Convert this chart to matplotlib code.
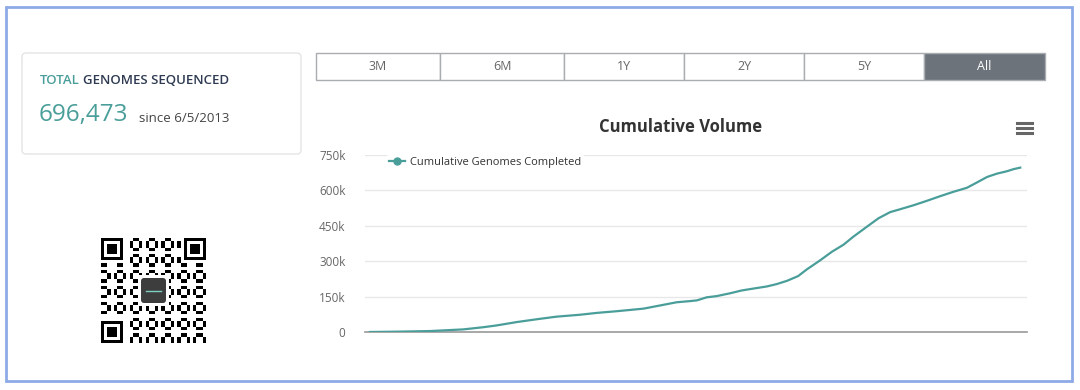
import matplotlib
matplotlib.use("Agg")
import matplotlib.pyplot as plt
import numpy as np
from matplotlib.patches import FancyBboxPatch, Rectangle
from matplotlib.lines import Line2D

plt.rcParams['font.family'] = ['Open Sans', 'DejaVu Sans']

# ---- data ----
years = [2013.43, 2013.87, 2014.41, 2014.95, 2015.27, 2015.50, 2015.82, 2016.15,
         2016.47, 2016.85, 2017.13, 2017.45, 2017.89, 2018.21, 2018.43, 2018.65,
         2018.76, 2018.92, 2019.08, 2019.30, 2019.49, 2019.68, 2019.90, 2020.06,
         2020.23, 2020.41, 2020.55, 2020.77, 2020.96, 2021.15, 2021.31, 2021.53,
         2021.72, 2021.91, 2022.07, 2022.29, 2022.51, 2022.73, 2022.94, 2023.16,
         2023.32, 2023.49, 2023.65, 2023.81, 2023.92, 2024.03]
genomes = [0, 1400, 4000, 11000, 20000, 28000, 42000, 54000,
           65000, 73000, 81000, 88000, 99000, 115000, 126000, 131000,
           134000, 147000, 152000, 164000, 176000, 184000, 193000, 203000,
           217000, 237000, 265000, 304000, 340000, 370000, 404000, 446000,
           482000, 508000, 520000, 537000, 556000, 576000, 594000, 611000,
           633000, 657000, 671000, 681000, 690000, 696473]
y_ticks = [0, 150000, 300000, 450000, 600000, 750000]
y_tick_labels = ["0", "150k", "300k", "450k", "600k", "750k"]
buttons = ["3M", "6M", "1Y", "2Y", "5Y", "All"]
total_label = "696,473"
since_label = "since 6/5/2013"

W, H = 1080, 390
fig = plt.figure(figsize=(W / 100, H / 100), dpi=100)
fig.patch.set_facecolor("white")

# background overlay in pixel coordinates
bg = fig.add_axes([0, 0, 1, 1])
bg.set_xlim(0, W)
bg.set_ylim(H, 0)
bg.axis("off")

# outer blue frame
bg.add_patch(Rectangle((6, 7), 1066, 374, fill=False, edgecolor="#8eaae6", lw=2))

# left card
bg.add_patch(FancyBboxPatch((22, 53), 279, 101, boxstyle="round,pad=0,rounding_size=4",
                            fill=False, edgecolor="#e4e4e4", lw=1))
bg.text(40, 80, "TOTAL", color="#4a9e9a", fontsize=9.5, va="center", ha="left",
        fontweight="semibold")
bg.text(83, 80, "GENOMES SEQUENCED", color="#2f3b52", fontsize=9.5, va="center",
        ha="left", fontweight="semibold")
bg.text(39, 115, total_label, color="#4a9e9a", fontsize=17.5, va="center", ha="left")
bg.text(139, 118, since_label, color="#444444", fontsize=9.5, va="center", ha="left")

# buttons
edges = [316, 440, 564, 684, 804, 924, 1045]
for i, lab in enumerate(buttons):
    x0, x1 = edges[i], edges[i + 1]
    active = lab == "All"
    bg.add_patch(Rectangle((x0, 53), x1 - x0, 27,
                           facecolor="#6c737b" if active else "white",
                           edgecolor="#a9adb2", lw=1, zorder=2))
    bg.text((x0 + x1) / 2, 67, lab, color="white" if active else "#666666",
            fontsize=9, ha="center", va="center", zorder=3)

# title and menu icon
bg.text(681, 127, "Cumulative Volume", fontsize=12, fontweight="bold",
        color="#333333", ha="center", va="center")
for yy in (123, 128, 133):
    bg.add_line(Line2D([1017, 1032], [yy, yy], color="#666666", lw=2.2))

# QR-code-like decoration (deterministic module pattern)
n = 33
ii, jj = np.mgrid[0:n, 0:n]
qr = (((ii * 7 + jj * 11 + ii * jj) % 5) < 2).astype(float)
def put_finder(r, c):
    qr[max(r - 1, 0):r + 8, max(c - 1, 0):c + 8] = 0
    qr[r:r + 7, c:c + 7] = 1
    qr[r + 1:r + 6, c + 1:c + 6] = 0
    qr[r + 2:r + 5, c + 2:c + 5] = 1
put_finder(0, 0)
put_finder(0, n - 7)
put_finder(n - 7, 0)
bg.imshow(1 - qr, cmap="gray", vmin=0, vmax=1, interpolation="nearest",
          extent=(101, 206, 343, 238), aspect="auto", zorder=1)
bg.add_patch(Rectangle((138, 275), 31, 31, facecolor="white", edgecolor="none", zorder=2))
bg.add_patch(FancyBboxPatch((141, 278), 25, 25, boxstyle="round,pad=0,rounding_size=3",
                            facecolor="#3d3d3d", edgecolor="none", zorder=3))
bg.add_line(Line2D([146, 161], [291, 291], color="#7fd0c0", lw=1, zorder=4))
bg.set_xlim(0, W)
bg.set_ylim(H, 0)

# main chart
left, right, top, bottom = 365, 1027, 155, 332
ax = fig.add_axes([left / W, 1 - bottom / H, (right - left) / W, (bottom - top) / H])
ax.set_facecolor("none")
ax.plot(years, genomes, color="#4a9e9a", lw=1.6, zorder=3)
ax.set_xlim(2013.35, 2024.14)
ax.set_ylim(0, 750000)
ax.set_yticks(y_ticks)
ax.set_yticklabels(y_tick_labels, color="#666666", fontsize=8.5)
ax.tick_params(axis="y", length=0, pad=14)
ax.tick_params(axis="x", length=0, labelbottom=False)
ax.grid(axis="y", color="#e8e8e8", lw=1)
ax.set_axisbelow(True)
for s in ("top", "right", "left"):
    ax.spines[s].set_visible(False)
ax.spines["bottom"].set_color("#999999")
ax.spines["bottom"].set_linewidth(1.2)

leg = ax.legend([Line2D([0], [0], color="#4a9e9a", lw=1.6, marker="o", markersize=5)],
                ["Cumulative Genomes Completed"], loc="upper left",
                bbox_to_anchor=(0.025, 1.035), frameon=True, fontsize=8,
                handlelength=1.4, handletextpad=0.5, borderpad=0.2)
leg.get_frame().set_facecolor("white")
leg.get_frame().set_edgecolor("none")
leg.get_frame().set_alpha(1)
for t in leg.get_texts():
    t.set_color("#333333")

fig.savefig("out.png", dpi=100, facecolor="white")
